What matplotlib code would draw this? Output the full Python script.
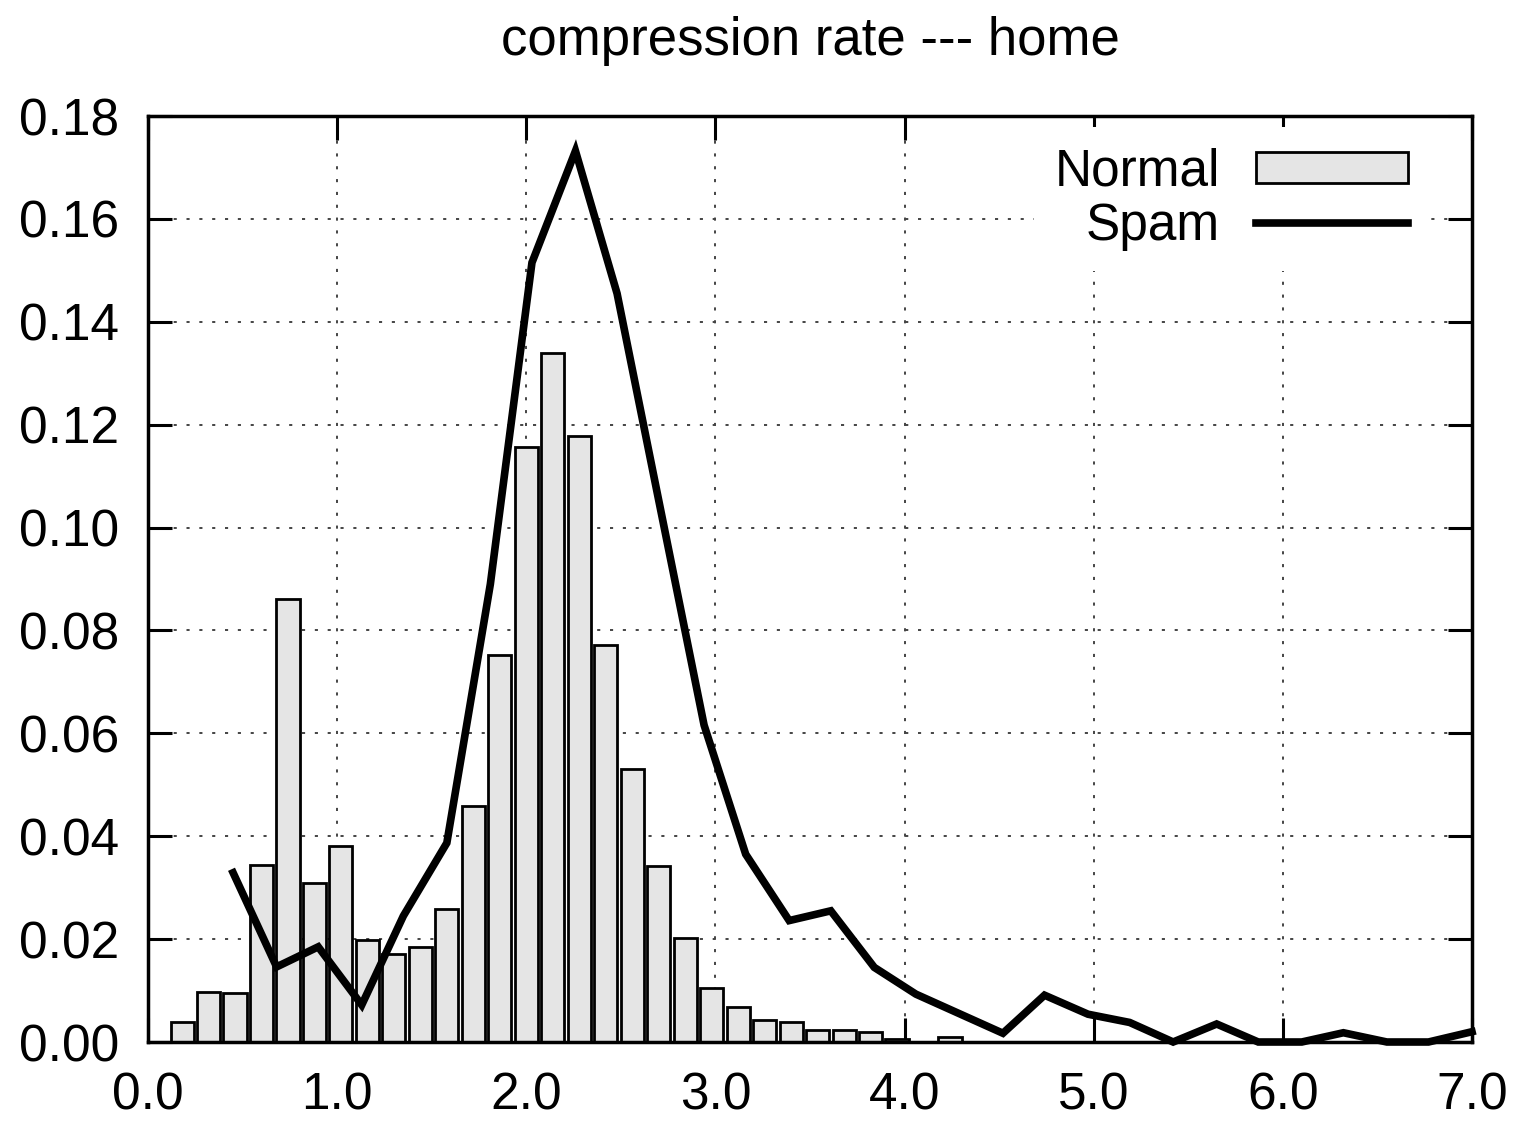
import matplotlib
matplotlib.use("Agg")
import matplotlib.pyplot as plt
from matplotlib.ticker import FormatStrFormatter

plt.rcParams['font.family'] = ['Liberation Sans', 'DejaVu Sans']

# histogram of normal mails (bin centers / heights)
normal_x = [0.18, 0.32, 0.46, 0.60, 0.74, 0.88, 1.02, 1.16, 1.30, 1.44,
            1.58, 1.72, 1.86, 2.00, 2.14, 2.28, 2.42, 2.56, 2.70, 2.84,
            2.98, 3.12, 3.26, 3.40, 3.54, 3.68, 3.82, 3.96, 4.10, 4.24]
normal_y = [0.0038, 0.0098, 0.0095, 0.0344, 0.0862, 0.0310, 0.0381, 0.0198, 0.0172, 0.0184,
            0.0258, 0.0458, 0.0752, 0.1156, 0.1340, 0.1178, 0.0771, 0.0530, 0.0342, 0.0203,
            0.0105, 0.0068, 0.0042, 0.0038, 0.0024, 0.0024, 0.0019, 0.0005, 0.0, 0.0009]

# spam curve
spam_x = [0.45, 0.68, 0.90, 1.13, 1.35, 1.58, 1.81, 2.03, 2.26, 2.48,
          2.71, 2.94, 3.16, 3.39, 3.61, 3.84, 4.06, 4.29, 4.52, 4.74,
          4.97, 5.19, 5.42, 5.65, 5.87, 6.10, 6.32, 6.55, 6.77, 7.00]
spam_y = [0.0329, 0.0146, 0.0185, 0.0072, 0.0245, 0.0387, 0.0890, 0.1515, 0.1732, 0.1455,
          0.1035, 0.0616, 0.0365, 0.0236, 0.0255, 0.0145, 0.0093, 0.0055, 0.0017, 0.0091,
          0.0054, 0.0038, 0.0, 0.0035, 0.0, 0.0, 0.0018, 0.0, 0.0, 0.0020]

x_ticks = [0, 1, 2, 3, 4, 5, 6, 7]
y_ticks = [0.0, 0.02, 0.04, 0.06, 0.08, 0.10, 0.12, 0.14, 0.16, 0.18]

fig = plt.figure(figsize=(15.13, 11.21), dpi=100)
ax = fig.add_axes([148 / 1513, 1 - 1042 / 1121, 1324 / 1513, 926 / 1121])

bars = ax.bar(normal_x, normal_y, width=0.122, color='#e5e5e5', edgecolor='black',
              linewidth=2.0, label='Normal', zorder=2)
line, = ax.plot(spam_x, spam_y, color='black', linewidth=5.5, label='Spam',
                zorder=3, clip_on=False, solid_joinstyle='miter')

ax.set_xlim(0, 7)
ax.set_ylim(0, 0.18)
ax.set_xticks(x_ticks)
ax.set_yticks(y_ticks)
ax.xaxis.set_major_formatter(FormatStrFormatter('%.1f'))
ax.yaxis.set_major_formatter(FormatStrFormatter('%.2f'))
ax.tick_params(direction='in', length=17, width=2.2, labelsize=37, pad=21,
               top=True, right=True)
for s in ax.spines.values():
    s.set_linewidth(2.5)

ax.grid(True, color='#444444', linestyle=(0, (1.6, 5)), linewidth=1.4, zorder=0)
ax.set_axisbelow(True)

ax.set_title('compression rate --- home', fontsize=38, pad=44)

leg = ax.legend([bars, line], ['Normal', 'Spam'], loc='upper right',
                bbox_to_anchor=(0.967, 0.988), fontsize=37,
                markerfirst=False, frameon=True, fancybox=False, framealpha=1,
                edgecolor='none', facecolor='white', handlelength=2.95,
                handleheight=0.56, handletextpad=0.7, labelspacing=0.1,
                borderpad=0.4, borderaxespad=0)
leg.set_zorder(4)

fig.savefig('out.png', dpi=100)
